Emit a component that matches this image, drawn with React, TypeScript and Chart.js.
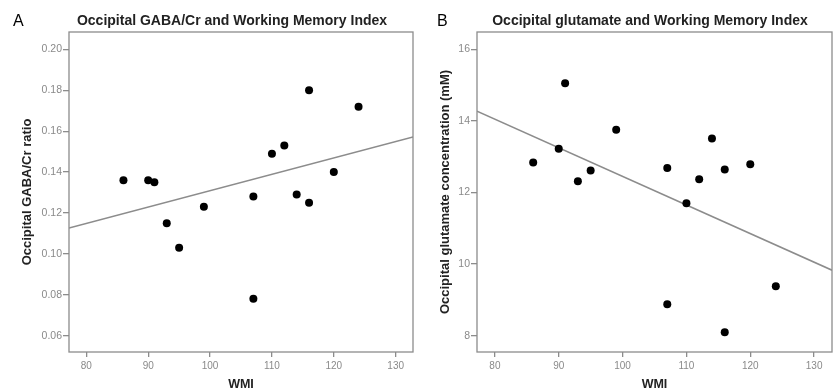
import React, { useEffect, useRef } from "react";
import { Chart, registerables } from "chart.js";
Chart.register(...registerables);

const FONT = '"Liberation Sans", Arial, Helvetica, sans-serif';

// Shared WMI values (same subjects in both panels)
const wmi = [86, 90, 91, 93, 95, 99, 107, 107, 110, 112, 114, 116, 116, 120, 124];
// Panel A: occipital GABA/Cr ratio
const gabaCr = [0.136, 0.136, 0.135, 0.115, 0.103, 0.123, 0.128, 0.078, 0.149, 0.153, 0.129, 0.180, 0.125, 0.140, 0.172];
// Panel B: occipital glutamate concentration (mM)
const glutamate = [12.84, 13.22, 15.05, 12.31, 12.61, 13.75, 12.68, 8.88, 11.70, 12.37, 13.51, 12.64, 8.10, 12.79, 9.38];

// Fit line end points
const fitX = [77.2, 132.8];
const fitGaba = [0.1126, 0.1572];
const fitGlu = [14.27, 9.83];

const xTicks = [80, 90, 100, 110, 120, 130];
const gabaTicks = [0.06, 0.08, 0.1, 0.12, 0.14, 0.16, 0.18, 0.2];
const gluTicks = [8, 10, 12, 14, 16];

const GREY = "#8c8c8c";

const framePlugin = {
  id: "frame",
  beforeDatasetsDraw(chart: any) {
    const { ctx, chartArea: a } = chart;
    ctx.save();
    ctx.strokeStyle = GREY;
    ctx.lineWidth = 1.3;
    ctx.strokeRect(a.left, a.top, a.right - a.left, a.bottom - a.top);
    ctx.restore();
  },
  afterDraw(chart: any, _args: any, opts: any) {
    const { ctx } = chart;
    ctx.save();
    ctx.fillStyle = "#000";
    ctx.textBaseline = "middle";
    ctx.textAlign = "left";
    ctx.font = `16px ${FONT}`;
    ctx.fillText(opts.letter, opts.letterX, 22);
    ctx.textAlign = "center";
    ctx.fillStyle = "#222";
    ctx.font = `bold 14px ${FONT}`;
    ctx.fillText(opts.title, opts.titleX, 21);
    ctx.restore();
  },
};

function makeConfig(p: any): any {
  return {
    type: "scatter",
    data: {
      datasets: [
        {
          data: wmi.map((x, i) => ({ x, y: p.yValues[i] })),
          pointRadius: 4,
          pointBackgroundColor: "#000",
          pointBorderWidth: 0,
          showLine: false,
        },
        {
          data: fitX.map((x, i) => ({ x, y: p.fitY[i] })),
          showLine: true,
          borderColor: GREY,
          borderWidth: 1.5,
          pointRadius: 0,
          fill: false,
        },
      ],
    },
    options: {
      responsive: false,
      animation: false,
      layout: { padding: { left: 0, right: p.padRight, top: 32, bottom: 0 } },
      plugins: {
        legend: { display: false },
        tooltip: { enabled: false },
        frame: { letter: p.letter, letterX: p.letterX, title: p.title, titleX: p.titleX },
      },
      scales: {
        x: {
          type: "linear",
          min: 77.2,
          max: 132.8,
          afterBuildTicks: (s: any) => {
            s.ticks = xTicks.map((v) => ({ value: v }));
          },
          afterFit: (s: any) => {
            s.height = 40;
          },
          grid: { display: true, drawOnChartArea: false, drawTicks: true, tickLength: 5, color: GREY, lineWidth: 1.3 },
          border: { display: false },
          ticks: {
            color: "#8a8a8a",
            font: { size: 10, family: FONT },
            padding: 3,
            maxRotation: 0,
            autoSkip: false,
            callback: (v: any) => String(v),
          },
          title: {
            display: true,
            text: "WMI",
            color: "#222",
            font: { size: 12.5, weight: "bold", family: FONT },
            padding: { top: 0, bottom: 0 },
          },
        },
        y: {
          type: "linear",
          min: p.yMin,
          max: p.yMax,
          afterBuildTicks: (s: any) => {
            s.ticks = p.yTicks.map((v: number) => ({ value: v }));
          },
          afterFit: (s: any) => {
            s.width = p.yAxisWidth;
          },
          grid: { display: true, drawOnChartArea: false, drawTicks: true, tickLength: 6, color: GREY, lineWidth: 1.3 },
          border: { display: false },
          ticks: {
            color: "#8a8a8a",
            font: { size: 10.5, family: FONT },
            padding: 1,
            autoSkip: false,
            callback: p.yFmt,
          },
          title: {
            display: true,
            text: p.yTitle,
            color: "#222",
            font: { size: 13, weight: "bold", family: FONT },
            padding: { top: p.yTitlePad, bottom: 0 },
          },
        },
      },
    },
    plugins: [framePlugin],
  };
}

function Panel({ cfg, left, width }: { cfg: any; left: number; width: number }) {
  const ref = useRef<HTMLCanvasElement>(null);
  useEffect(() => {
    const c = new Chart(ref.current as HTMLCanvasElement, cfg);
    return () => c.destroy();
  }, []);
  return (
    <canvas
      ref={ref}
      width={width}
      height={392}
      style={{ position: "absolute", left, top: 0, width, height: 392 }}
    />
  );
}

export default function App() {
  const cfgA = makeConfig({
    yValues: gabaCr,
    fitY: fitGaba,
    yMin: 0.052,
    yMax: 0.2085,
    yTicks: gabaTicks,
    yFmt: (v: any) => Number(v).toFixed(2),
    yTitle: "Occipital GABA/Cr ratio",
    yAxisWidth: 69,
    yTitlePad: 19.2,
    padRight: 7,
    letter: "A",
    letterX: 13,
    title: "Occipital GABA/Cr and Working Memory Index",
    titleX: 232,
  });
  const cfgB = makeConfig({
    yValues: glutamate,
    fitY: fitGlu,
    yMin: 7.546,
    yMax: 16.48,
    yTicks: gluTicks,
    yFmt: (v: any) => String(v),
    yTitle: "Occipital glutamate concentration (mM)",
    yAxisWidth: 57,
    yTitlePad: 17.2,
    padRight: 7,
    letter: "B",
    letterX: 17,
    title: "Occipital glutamate and Working Memory Index",
    titleX: 230,
  });
  return (
    <div style={{ position: "fixed", left: 0, top: 0, width: 839, height: 392, background: "#fff" }}>
      <Panel cfg={cfgA} left={0} width={420} />
      <Panel cfg={cfgB} left={420} width={419} />
    </div>
  );
}
